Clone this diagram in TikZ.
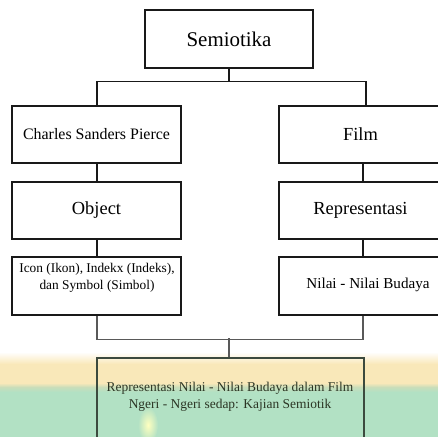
\documentclass[tikz,border=0pt]{standalone}
\usepackage{fontspec}
\setmainfont{Liberation Serif}
\definecolor{bandY}{HTML}{F9E8B9}
\definecolor{bandG}{HTML}{B2E1C4}
\definecolor{bandM}{HTML}{CADDB9}
\definecolor{finalTxt}{HTML}{2B3524}
\definecolor{finalLine}{HTML}{3C4A3E}
\tikzset{
  box/.style={draw=black!90, line width=1.2bp, rectangle, inner sep=0pt, align=center},
  conn/.style={draw=black!90, line width=1.2bp},
  conngray/.style={draw=black!65, line width=1.2bp},
  fbig/.style={font=\fontsize{21}{24}\selectfont},
  fmid/.style={font=\fontsize{18.5}{21}\selectfont},
  fcsp/.style={font=\fontsize{16}{19}\selectfont},
  fnil/.style={font=\fontsize{15.2}{18}\selectfont},
  fsmall/.style={font=\fontsize{13.4}{17}\selectfont},
  ffinal/.style={font=\fontsize{13.5}{17}\selectfont, text=finalTxt}
}
\begin{document}
\begin{tikzpicture}[x=1bp, y=-1bp]
\useasboundingbox (0,0) rectangle (438,437);
% background watermark bands
\shade[top color=white, bottom color=bandY] (0,352) rectangle (438,364);
\fill[bandY] (0,364) rectangle (438,383);
\shade[top color=bandY, bottom color=bandM] (0,383) rectangle (438,387);
\shade[top color=bandM, bottom color=bandG] (0,387) rectangle (438,392);
\fill[bandG] (0,392) rectangle (438,437);
\shade[inner color=yellow!25, outer color=bandG] (148,425) ellipse (10 and 18);
% nodes
\node[box, fbig, minimum width=168bp, minimum height=58bp] (sem) at (229,39) {Semiotika};
\node[box, fcsp, minimum width=169bp, minimum height=57bp] (csp) at (96.5,134.5) {Charles Sanders Pierce};
\node[box, fmid, minimum width=163bp, minimum height=57bp] (film) at (360.5,134.5) {Film};
\node[box, fmid, minimum width=169bp, minimum height=57bp] (obj) at (96.5,210.5) {Object};
\node[box, fmid, minimum width=163bp, minimum height=57bp] (rep) at (360.5,210.5) {Representasi};
\node[box, minimum width=169bp, minimum height=58bp] (icon) at (96.5,286) {};
\node[fsmall, align=center] (icontxt) at (97,277.5) {Icon (Ikon), Indekx (Indeks),\\dan Symbol (Simbol)};
\node[box, minimum width=163bp, minimum height=58bp] (nilai) at (360.5,286) {};
\node[fnil] (nilaitxt) at (368,285) {Nilai - Nilai Budaya};
\node[draw=finalLine, line width=1.2bp, rectangle, inner sep=0pt, minimum width=267bp, minimum height=110bp] (final) at (230.5,413) {};
\node[ffinal, align=center] (finaltxt) at (230,396.5) {Representasi Nilai - Nilai Budaya dalam Film\\Ngeri - Ngeri sedap: Kajian Semiotik};
% connectors
\draw[conn] (sem.south) -- ++(0,13) coordinate (j1) -| ([xshift=0.5bp]csp.north);
\draw[conn] (j1) -| ([xshift=5.5bp]film.north);
\draw[conn] ([xshift=0.5bp]csp.south) -- ([xshift=0.5bp]obj.north);
\draw[conn] ([xshift=2.5bp]film.south) -- ([xshift=2.5bp]rep.north);
\draw[conn] ([xshift=0.5bp]obj.south) -- ([xshift=0.5bp]icon.north);
\draw[conn] ([xshift=2.5bp]rep.south) -- ([xshift=2.5bp]nilai.north);
\draw[conngray] ([xshift=0.5bp]icon.south) -- ++(0,24) coordinate (j2) -| ([xshift=2.5bp]nilai.south);
\draw[conngray] ([xshift=-1.5bp]final.north) -- ++(0,-19);
\end{tikzpicture}
\end{document}
